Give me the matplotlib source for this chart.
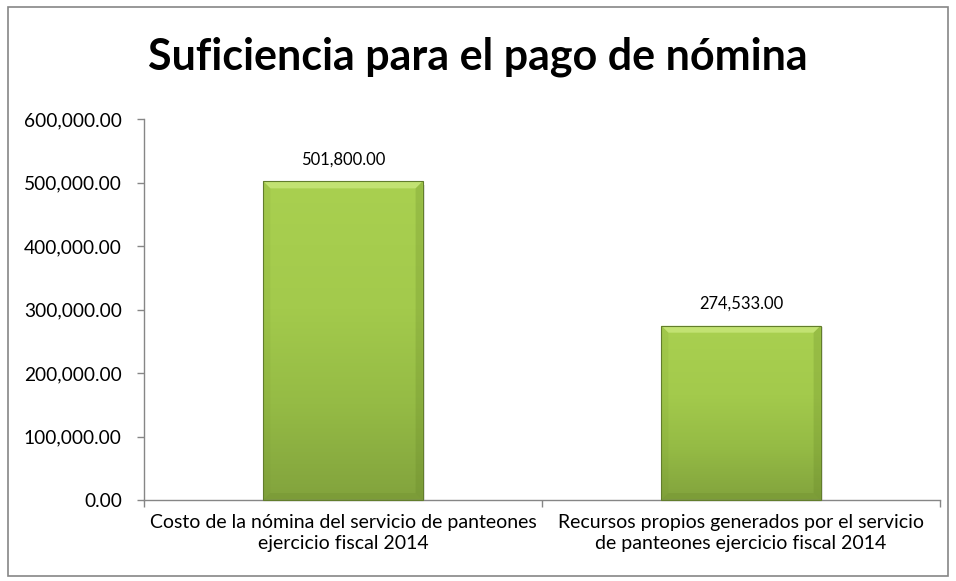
import matplotlib
matplotlib.use("Agg")
import matplotlib.pyplot as plt
import numpy as np
from matplotlib.patches import Polygon, Rectangle
from matplotlib.transforms import IdentityTransform
from matplotlib.ticker import FuncFormatter

plt.rcParams['font.family'] = ['Lato', 'DejaVu Sans']

title = "Suficiencia para el pago de nómina"
categories = ["Costo de la nómina del servicio de panteones\nejercicio fiscal 2014",
              "Recursos propios generados por el servicio\nde panteones ejercicio fiscal 2014"]
values = [501800.00, 274533.00]
yticks = [0, 100000, 200000, 300000, 400000, 500000, 600000]

W, H = 956, 581
fig = plt.figure(figsize=(W / 100, H / 100), dpi=100)
ax = fig.add_axes([144 / W, (H - 500) / H, (940 - 144) / W, (500 - 119) / H])

# outer chart border
fig.patches.append(Rectangle((8 / W, 5 / H), 940 / W, 569 / H, transform=fig.transFigure,
                             fill=False, edgecolor="#868686", linewidth=1.2))

x = np.arange(len(values))
bars = ax.bar(x, values, width=0.4, color="none", edgecolor="none", zorder=3)
ax.set_xlim(-0.5, len(values) - 0.5)
ax.set_ylim(0, 600000)

grad = np.linspace(0, 1, 256).reshape(-1, 1)
cmap = matplotlib.colors.LinearSegmentedColormap.from_list(
    "g", [(0, "#82a33d"), (0.3, "#95bb45"), (0.6, "#a3ca4c"), (1, "#a9d050")])
for b in bars:
    x0, y0, w, h = b.get_x(), b.get_y(), b.get_width(), b.get_height()
    # soft shadow
    ax.add_patch(Rectangle((x0 + 0.007, y0), w, h * 0.99, color="#000000", alpha=0.10,
                           zorder=1, linewidth=0))
    im = ax.imshow(grad, extent=[x0, x0 + w, y0, y0 + h], origin="lower", cmap=cmap,
                   aspect="auto", zorder=2)
    im.set_clip_path(b)

fig.canvas.draw()
bv = 7
for b in bars:
    (px0, py0), (px1, py1) = ax.transData.transform([(b.get_x(), 0),
                                                     (b.get_x() + b.get_width(), b.get_height())])
    shapes = [
        ([(px0, py1), (px1, py1), (px1 - bv, py1 - bv), (px0 + bv, py1 - bv)], "#d4f08a", 0.6),
        ([(px1, py1), (px1, py0), (px1 - bv, py0 + bv), (px1 - bv, py1 - bv)], "#5e7d22", 0.22),
        ([(px0, py1), (px0, py0), (px0 + bv, py0 + bv), (px0 + bv, py1 - bv)], "#6f8f2c", 0.12),
        ([(px0, py0), (px1, py0), (px1 - bv, py0 + bv), (px0 + bv, py0 + bv)], "#5a7520", 0.15),
    ]
    for pts, c, a in shapes:
        fig.patches.append(Polygon(pts, closed=True, transform=IdentityTransform(),
                                   facecolor=c, alpha=a, edgecolor="none", zorder=4))
    fig.patches.append(Polygon([(px0, py0), (px0, py1), (px1, py1), (px1, py0)], closed=True,
                               transform=IdentityTransform(), fill=False,
                               edgecolor="#627d2c", linewidth=0.8, zorder=5))

for xi, v in zip(x, values):
    ax.annotate(f"{v:,.2f}", (xi, v), xytext=(0, 10), textcoords="offset points",
                ha="center", va="bottom", fontsize=11.9, color="#000000")

for s in ["top", "right"]:
    ax.spines[s].set_visible(False)
for s in ["left", "bottom"]:
    ax.spines[s].set_color("#868686")
    ax.spines[s].set_linewidth(1.0)

ax.set_yticks(yticks)
ax.yaxis.set_major_formatter(FuncFormatter(lambda v, p: f"{v:,.2f}"))
ax.tick_params(axis="y", direction="out", length=5, width=1, color="#868686",
               labelsize=13.8, pad=11, labelcolor="#000000")

ax.set_xticks(x)
ax.set_xticklabels(categories, fontsize=14, linespacing=1.3)
ax.tick_params(axis="x", length=0, pad=10, labelcolor="#000000")
ax.set_xticks(np.arange(len(values) + 1) - 0.5, minor=True)
ax.tick_params(axis="x", which="minor", direction="out", length=5, width=1, color="#868686")

fig.text(0.5, 1 - 57 / H, title, ha="center", va="center", fontsize=31,
         fontweight="bold", color="#000000")

fig.savefig("out.png", dpi=100)
